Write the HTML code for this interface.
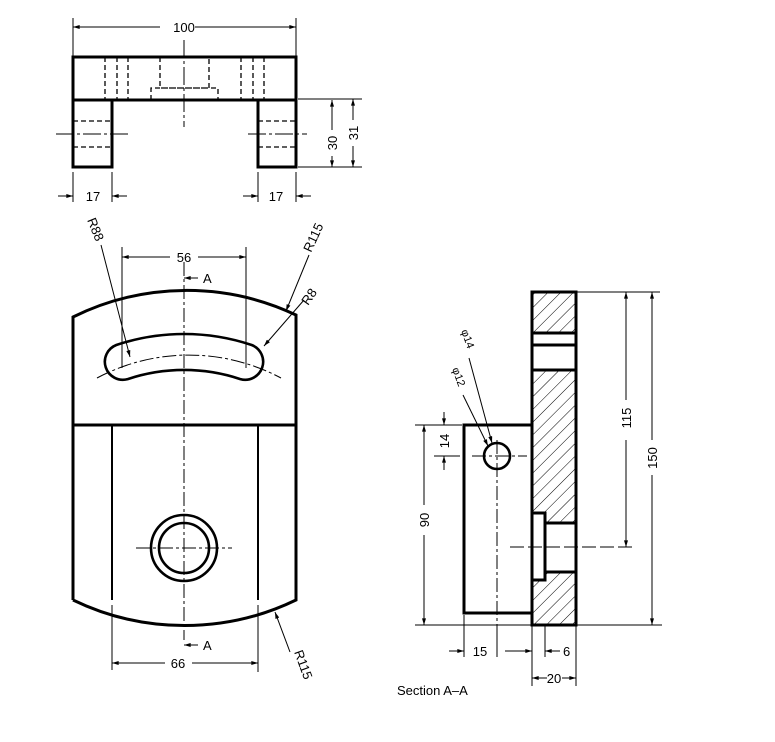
<!DOCTYPE html>
<html><head><meta charset="utf-8"><style>html,body{margin:0;padding:0;background:#fff}svg{display:block}</style></head><body>
<svg width="775" height="742" viewBox="0 0 775 742" xmlns="http://www.w3.org/2000/svg" font-family="Liberation Sans, sans-serif" font-size="13">
<defs>
<pattern id="h" patternUnits="userSpaceOnUse" width="9" height="9" patternTransform="rotate(45)"><line x1="0" y1="0" x2="0" y2="9" stroke="#000" stroke-width="1"/></pattern>
<marker id="a" viewBox="0 0 10 6" refX="10" refY="3" markerWidth="8" markerHeight="4" orient="auto-start-reverse" markerUnits="userSpaceOnUse"><path d="M0,0L10,3L0,6z" fill="#000"/></marker>
</defs>
<g fill="none" stroke="#000">
<!-- TOP VIEW -->
<g stroke-width="3">
<rect x="73" y="57" width="223" height="43"/>
<path d="M73,100V167H112V100M258,100V167H296V100"/>
</g>
<g stroke-width="1.3" stroke-dasharray="5,3">
<path d="M105,57V100M117,57V100M128,57V100M241,57V100M253,57V100M264,57V100"/>
<path d="M160,57V88H209V57M151,100V88H218V100"/>
<path d="M73,121H112M73,147H112M258,121H296M258,147H296"/>
</g>
<g stroke-width="1">
<path d="M184,40V127" stroke-dasharray="18,3,3,3"/>
<path d="M56,134H130M248,134H307" stroke-dasharray="18,3,3,3"/>
<path d="M73,18V57M296,18V57"/>
<line x1="160" y1="27" x2="73" y2="27" marker-end="url(#a)"/><line x1="195" y1="27" x2="296" y2="27" marker-end="url(#a)"/>
<path d="M298,99H362M298,167H362"/>
<line x1="332" y1="130" x2="332" y2="100" marker-end="url(#a)"/><line x1="332" y1="156" x2="332" y2="167" marker-end="url(#a)"/>
<line x1="353" y1="120" x2="353" y2="99" marker-end="url(#a)"/><line x1="353" y1="146" x2="353" y2="167" marker-end="url(#a)"/>
<path d="M73,172V202M112,172V202M258,172V202M296,172V202"/>
<line x1="58" y1="196" x2="73" y2="196" marker-end="url(#a)"/><line x1="127" y1="196" x2="112" y2="196" marker-end="url(#a)"/>
<line x1="243" y1="196" x2="258" y2="196" marker-end="url(#a)"/><line x1="311" y1="196" x2="296" y2="196" marker-end="url(#a)"/>
</g>
<!-- FRONT VIEW -->
<g stroke-width="3">
<path d="M73,600V317A256,256 0 0 1 296,315V600A256,256 0 0 1 73,600"/>
<path d="M73,425H296"/>
<path d="M112,425V600M258,425V600" stroke-width="2"/>
<path d="M116.3,345A214,214 0 0 1 251.7,345A18,18 0 0 1 240.3,379.1A178,178 0 0 0 127.7,379.1A18,18 0 0 1 116.3,345Z" stroke-width="2.6"/>
<circle cx="184" cy="548" r="33" stroke-width="2.6"/>
<circle cx="184" cy="548" r="25" stroke-width="2.6"/>
</g>
<g stroke-width="1">
<path d="M97,378A196,196 0 0 1 281,378" stroke-dasharray="14,3,3,3"/>
<path d="M184,262V640" stroke-dasharray="14,3,3,3"/>
<path d="M136,548H232" stroke-dasharray="14,3,3,3"/>
<path d="M122,247V368M246,247V368"/>
<line x1="170" y1="257" x2="122" y2="257" marker-end="url(#a)"/><line x1="198" y1="257" x2="246" y2="257" marker-end="url(#a)"/>
<line x1="198" y1="278" x2="184" y2="278" marker-end="url(#a)"/>
<line x1="198" y1="645" x2="184" y2="645" marker-end="url(#a)"/>
<path d="M112,605V670M258,605V672"/>
<line x1="165" y1="663" x2="112" y2="663" marker-end="url(#a)"/><line x1="192" y1="663" x2="258" y2="663" marker-end="url(#a)"/>
<line x1="101" y1="245" x2="130" y2="357" marker-end="url(#a)"/>
<line x1="309" y1="255" x2="286" y2="311" marker-end="url(#a)"/>
<line x1="304" y1="300" x2="264" y2="346" marker-end="url(#a)"/>
<line x1="290" y1="652" x2="275" y2="612" marker-end="url(#a)"/>
</g>
<!-- SECTION -->
<g stroke-width="0">
<rect x="532" y="292" width="44" height="41" fill="url(#h)"/>
<rect x="532" y="370" width="44" height="153" fill="url(#h)"/>
<rect x="545" y="572" width="31" height="53" fill="url(#h)"/>
<rect x="532" y="580" width="13" height="45" fill="url(#h)"/>
<rect x="532" y="513" width="13" height="10" fill="#fff"/>
</g>
<g stroke-width="3">
<path d="M532,292H576V625H532Z"/>
<path d="M532,333H576M532,345H576M532,370H576"/>
<path d="M532,513H545V580H532M545,523H576M545,572H576"/>
<path d="M532,425H464V613H532"/>
<circle cx="497" cy="456" r="13" stroke-width="2.6"/>
</g>
<g stroke-width="1">
<path d="M472,456H527M497,440V630" stroke-dasharray="14,3,3,3"/>
<path d="M510,547H635" stroke-dasharray="14,4"/>
<path d="M576,292H660M576,625H662M415,425H462M415,625H532"/>
<line x1="626" y1="400" x2="626" y2="292" marker-end="url(#a)"/><line x1="626" y1="440" x2="626" y2="547" marker-end="url(#a)"/>
<line x1="652" y1="440" x2="652" y2="292" marker-end="url(#a)"/><line x1="652" y1="475" x2="652" y2="625" marker-end="url(#a)"/>
<line x1="424" y1="505" x2="424" y2="425" marker-end="url(#a)"/><line x1="424" y1="535" x2="424" y2="625" marker-end="url(#a)"/>
<path d="M434,456H460"/>
<line x1="444" y1="412" x2="444" y2="425" marker-end="url(#a)"/><line x1="444" y1="470" x2="444" y2="456" marker-end="url(#a)"/>
<path d="M464,615V657M497,630V657M532,625V686M545,625V657M576,625V686"/>
<line x1="449" y1="651" x2="464" y2="651" marker-end="url(#a)"/><line x1="505" y1="651" x2="532" y2="651" marker-end="url(#a)"/>
<line x1="560" y1="651" x2="545" y2="651" marker-end="url(#a)"/>
<line x1="547" y1="678" x2="532" y2="678" marker-end="url(#a)"/><line x1="562" y1="678" x2="576" y2="678" marker-end="url(#a)"/>
<line x1="469" y1="358" x2="492" y2="443" marker-end="url(#a)"/>
<line x1="463" y1="395" x2="488" y2="446" marker-end="url(#a)"/>
</g>
</g>
<g fill="#000" stroke="none">
<text x="184" y="32" text-anchor="middle">100</text>
<text transform="translate(337,143) rotate(-90)" text-anchor="middle">30</text>
<text transform="translate(358,133) rotate(-90)" text-anchor="middle">31</text>
<text x="93" y="201" text-anchor="middle">17</text>
<text x="276" y="201" text-anchor="middle">17</text>
<text x="184" y="262" text-anchor="middle">56</text>
<text x="203" y="283">A</text>
<text x="203" y="650">A</text>
<text x="178" y="668" text-anchor="middle">66</text>
<text transform="translate(87,220) rotate(68)">R88</text>
<text transform="translate(311,253) rotate(-65)">R115</text>
<text transform="translate(308,306) rotate(-55)">R8</text>
<text transform="translate(294,652) rotate(70)">R115</text>
<text transform="translate(631,418) rotate(-90)" text-anchor="middle">115</text>
<text transform="translate(657,458) rotate(-90)" text-anchor="middle">150</text>
<text transform="translate(429,520) rotate(-90)" text-anchor="middle">90</text>
<text transform="translate(449,441) rotate(-90)" text-anchor="middle">14</text>
<text x="480" y="656" text-anchor="middle">15</text>
<text x="563" y="656">6</text>
<text x="554" y="683" text-anchor="middle">20</text>
<text transform="translate(461,331) rotate(70)" font-size="11">φ14</text>
<text transform="translate(452,369) rotate(70)" font-size="11">φ12</text>
<text x="397" y="695">Section  A–A</text>
</g>
</svg>
</body></html>
